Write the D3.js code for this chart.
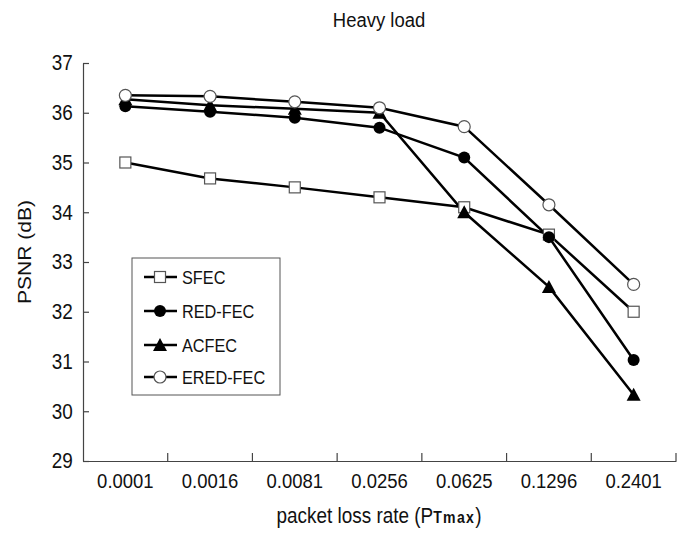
<!DOCTYPE html>
<html><head><meta charset="utf-8">
<script src="https://cdn.jsdelivr.net/npm/d3@7"></script>
<style>body{margin:0;background:#fff;}svg{display:block;font-family:"Liberation Sans",Arial,sans-serif;}</style>
</head><body>
<svg id="c" width="684" height="537"></svg>
<script>
const categories = ["0.0001","0.0016","0.0081","0.0256","0.0625","0.1296","0.2401"];
const sfec   = [35.0, 34.68, 34.5, 34.3, 34.1, 33.55, 32.0];
const redfec = [36.13, 36.02, 35.9, 35.7, 35.1, 33.5, 31.03];
const acfec  = [36.27, 36.15, 36.08, 36.0, 34.0, 32.5, 30.33];
const eredfec= [36.35, 36.33, 36.22, 36.1, 35.72, 34.15, 32.55];
const yTicks = [29,30,31,32,33,34,35,36,37];
const seriesNames = ["SFEC","RED-FEC","ACFEC","ERED-FEC"];
const seriesData = [sfec, redfec, acfec, eredfec];
const markers = ["square","circleFilled","triangle","circleOpen"];

(function(){
const SX = 0.88;
const svg = d3.select("#c");
const mLeft=83, mRight=676, mTop=63, mBottom=461;
const x = d3.scaleBand().domain(categories).range([mLeft,mRight]);
const y = d3.scaleLinear().domain([29,37]).range([mBottom,mTop]);

// axes
const ax = svg.append("g").attr("transform",`translate(0,${mBottom})`)
  .call(d3.axisBottom(x).tickSize(0).tickPadding(12));
ax.select(".domain").attr("stroke","#444").attr("stroke-width",1.2);
ax.selectAll("text").attr("font-size",21).attr("fill","#111")
  .attr("font-family","Liberation Sans, Arial, sans-serif").attr("transform",`scale(${SX},1)`);
// x tick marks at band boundaries (inside)
const bounds = categories.slice(1).map(d=>x(d)).concat([mRight]);
svg.append("g").selectAll("line").data(bounds).join("line")
  .attr("x1",d=>d).attr("x2",d=>d)
  .attr("y1",mBottom).attr("y2",mBottom-8).attr("stroke","#444").attr("stroke-width",1.2);

const ay = svg.append("g").attr("transform",`translate(${mLeft},0)`)
  .call(d3.axisLeft(y).tickValues(yTicks).tickFormat(d3.format("d")).tickSizeInner(-6).tickSizeOuter(0).tickPadding(11.5));
ay.select(".domain").attr("stroke","#444").attr("stroke-width",1.2);
ay.selectAll(".tick line").attr("stroke","#444").attr("stroke-width",1.2);
ay.selectAll("text").attr("font-size",21.5).attr("fill","#111")
  .attr("font-family","Liberation Sans, Arial, sans-serif").attr("transform",`scale(${SX},1)`);

// title and labels
svg.append("text").attr("transform",`translate(379,27) scale(${SX},1)`).attr("text-anchor","middle")
  .attr("font-size",21).attr("fill","#111").text("Heavy load");
svg.append("text").attr("transform",`translate(31,252) scale(${SX},1) rotate(-90)`).attr("text-anchor","middle")
  .attr("font-size",21).attr("fill","#111").text("PSNR (dB)");
const xl = svg.append("text").attr("transform",`translate(379,523) scale(${SX},1)`).attr("text-anchor","middle")
  .attr("font-size",21.5).attr("fill","#111");
xl.append("tspan").text("packet loss rate (P");
xl.append("tspan").attr("font-size",16).attr("font-weight","bold").attr("letter-spacing",1.5).text("Tmax");
xl.append("tspan").text(")");

function drawMarker(g, type, cx, cy){
  if(type==="square") g.append("rect").attr("x",cx-5.5).attr("y",cy-5.5).attr("width",11).attr("height",11).attr("fill","#fff").attr("stroke","#555").attr("stroke-width",1.2);
  else if(type==="circleFilled") g.append("circle").attr("cx",cx).attr("cy",cy).attr("r",6).attr("fill","#000");
  else if(type==="circleOpen") g.append("circle").attr("cx",cx).attr("cy",cy).attr("r",6).attr("fill","#fff").attr("stroke","#555").attr("stroke-width",1.2);
  else if(type==="triangle") g.append("path").attr("d",`M${cx},${cy-7}L${cx+7},${cy+6}L${cx-7},${cy+6}Z`).attr("fill","#000");
}

const line = d3.line().x((d,i)=>x(categories[i])+x.bandwidth()/2).y(d=>y(d));
seriesData.forEach((s,k)=>{
  svg.append("path").datum(s).attr("d",line).attr("fill","none").attr("stroke","#000").attr("stroke-width",2.5);
});
seriesData.forEach((s,k)=>{
  const g = svg.append("g");
  s.forEach((v,i)=>drawMarker(g, markers[k], x(categories[i])+x.bandwidth()/2, y(v)));
});

// legend
const lg = svg.append("g");
lg.append("rect").attr("x",132).attr("y",258).attr("width",148).attr("height",137).attr("fill","#fff").attr("stroke","#555").attr("stroke-width",1);
const ly = [277,311,345,377];
seriesNames.forEach((n,k)=>{
  lg.append("line").attr("x1",144).attr("x2",177).attr("y1",ly[k]).attr("y2",ly[k]).attr("stroke","#000").attr("stroke-width",2.5);
  drawMarker(lg, markers[k], 160, ly[k]);
  lg.append("text").attr("transform",`translate(182,${ly[k]+6.5}) scale(${SX},1)`).attr("font-size",18.5).attr("fill","#111").text(n);
});
})();
</script>
</body></html>
